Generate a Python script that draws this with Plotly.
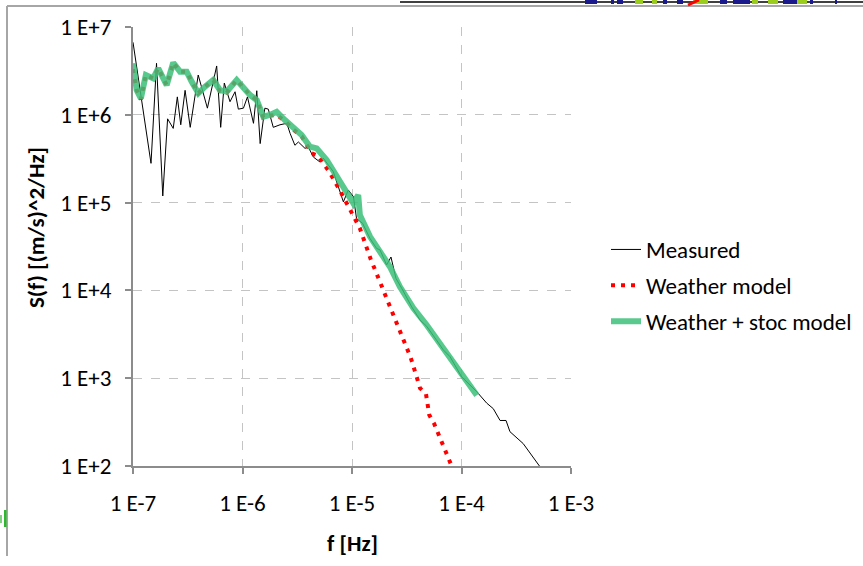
import plotly.graph_objects as go

# ---- data ----
meas_f = [1.00e-7, 1.46e-7, 1.64e-7, 1.87e-7, 2.07e-7, 2.33e-7, 2.54e-7, 2.73e-7, 2.99e-7, 3.33e-7,
          3.94e-7, 4.78e-7, 5.81e-7, 6.32e-7, 6.82e-7, 7.69e-7, 8.55e-7, 9.16e-7, 1.02e-6, 1.11e-6,
          1.26e-6, 1.35e-6, 1.45e-6, 1.60e-6, 1.72e-6, 1.91e-6, 2.20e-6, 2.54e-6, 2.72e-6, 3.01e-6,
          3.24e-6, 3.72e-6, 3.99e-6, 4.44e-6, 5.10e-6, 5.47e-6, 6.75e-6, 8.34e-6, 9.25e-6, 1.03e-5,
          1.10e-5, 1.25e-5, 1.46e-5, 1.68e-5, 1.80e-5, 2.07e-5, 2.27e-5, 2.52e-5, 2.84e-5, 3.51e-5,
          4.18e-5, 4.81e-5, 5.93e-5, 6.82e-5, 7.85e-5, 1.00e-4, 1.38e-4, 1.70e-4, 1.95e-4, 2.25e-4,
          2.55e-4, 2.77e-4, 3.66e-4, 4.38e-4, 5.21e-4]
meas_s = [6.7e6, 2.8e5, 3.86e6, 1.19e5, 9.0e5, 7.0e5, 1.6e6, 7.7e5, 1.9e6, 7.2e5,
          2.84e6, 1.19e6, 3.6e6, 7.2e5, 2.3e6, 1.41e6, 1.83e6, 1.16e6, 1.19e6, 1.6e6,
          8.0e5, 1.88e6, 4.7e5, 1.19e6, 1.16e6, 7.2e5, 7.7e5, 8.0e5, 6.15e5, 4.5e5,
          4.9e5, 4.15e5, 4.3e5, 3.3e5, 2.9e5, 3.2e5, 2.25e5, 1.02e5, 1.39e5, 1.17e5,
          6.6e4, 5.8e4, 3.9e4, 3.0e4, 2.9e4, 1.95e4, 2.4e4, 1.37e4, 1.06e4, 6.5e3,
          4.6e3, 3.9e3, 2.7e3, 2.1e3, 1.76e3, 1.04e3, 7.0e2, 5.2e2, 4.5e2, 3.3e2,
          3.3e2, 2.46e2, 1.8e2, 1.33e2, 9.8e1]

weather_f = [1.00e-7, 1.08e-7, 1.18e-7, 1.31e-7, 1.53e-7, 1.70e-7, 2.03e-7, 2.33e-7, 2.69e-7, 3.09e-7,
             3.44e-7, 3.95e-7, 4.55e-7, 5.41e-7, 6.23e-7, 7.17e-7, 8.85e-7, 1.02e-6, 1.17e-6, 1.35e-6,
             1.55e-6, 1.78e-6, 2.05e-6, 2.44e-6, 2.91e-6, 3.47e-6, 4.29e-6, 4.92e-6, 6.30e-6, 7.77e-6,
             9.60e-6, 1.18e-5, 1.48e-5, 1.75e-5, 2.10e-5, 2.47e-5, 2.90e-5, 3.44e-5, 3.92e-5, 4.18e-5,
             4.74e-5, 5.08e-5, 5.65e-5, 6.68e-5, 8.00e-5]
weather_s = [3.3e6, 1.91e6, 1.50e6, 2.84e6, 2.6e6, 3.39e6, 2.18e6, 3.92e6, 3.1e6, 3.1e6,
             2.38e6, 1.76e6, 2.09e6, 2.49e6, 1.85e6, 1.78e6, 2.49e6, 2.0e6, 1.68e6, 1.47e6,
             9.3e5, 9.8e5, 1.0e6, 8.5e5, 6.8e5, 5.7e5, 3.65e5, 3.4e5, 2.17e5, 1.37e5,
             8.2e4, 5.1e4, 2.28e4, 1.36e4, 8.1e3, 4.8e3, 2.89e3, 1.71e3, 1.01e3, 7.7e2,
             6.6e2, 3.8e2, 3.0e2, 1.77e2, 1.05e2]

stoc_f = [1.00e-7, 1.08e-7, 1.18e-7, 1.31e-7, 1.53e-7, 1.70e-7, 2.03e-7, 2.33e-7, 2.69e-7, 3.09e-7,
          3.44e-7, 3.95e-7, 4.55e-7, 5.41e-7, 6.23e-7, 7.17e-7, 8.85e-7, 1.02e-6, 1.17e-6, 1.35e-6,
          1.55e-6, 1.78e-6, 2.05e-6, 2.44e-6, 2.91e-6, 3.47e-6, 4.13e-6, 4.76e-6, 5.87e-6, 7.25e-6,
          8.95e-6, 1.03e-5, 1.14e-5, 1.18e-5, 1.46e-5, 2.22e-5, 2.74e-5, 3.63e-5, 4.81e-5, 7.33e-5,
          1.00e-4, 1.38e-4]
stoc_s = [3.86e6, 1.91e6, 1.54e6, 2.84e6, 2.6e6, 3.39e6, 2.18e6, 3.92e6, 3.1e6, 3.1e6,
          2.38e6, 1.76e6, 2.09e6, 2.49e6, 1.91e6, 1.83e6, 2.49e6, 2.0e6, 1.68e6, 1.47e6,
          9.5e5, 9.96e5, 1.08e6, 8.7e5, 7.0e5, 5.9e5, 4.34e5, 4.15e5, 3.06e5, 1.97e5,
          1.28e5, 9.8e4, 1.22e5, 7.2e4, 4.1e4, 1.86e4, 1.10e4, 6.3e3, 4.04e3, 1.92e3,
          1.09e3, 6.4e2]

x_tickvals = [1e-7, 1e-6, 1e-5, 1e-4, 1e-3]
x_ticktext = ["1 E-7", "1 E-6", "1 E-5", "1 E-4", "1 E-3"]
y_tickvals = [1e2, 1e3, 1e4, 1e5, 1e6, 1e7]
y_ticktext = ["1 E+2", "1 E+3", "1 E+4", "1 E+5", "1 E+6", "1 E+7"]

FONT = "Calibri, Carlito, Lato, sans-serif"
FS = 23
W, H = 863, 566
L, R, T, B = 133, 571, 27, 466  # plot area in pixels


def px(xp):
    return (xp - L) / (R - L)


def py(yp):
    return (B - yp) / (B - T)


fig = go.Figure()
fig.add_trace(go.Scatter(x=meas_f, y=meas_s, mode="lines", name="Measured",
                         line=dict(color="black", width=1), legendgroup="a"))
fig.add_trace(go.Scatter(x=weather_f, y=weather_s, mode="lines", name="Weather model",
                         line=dict(color="#ff0000", width=4, dash="4px,6px"), legendgroup="b"))
fig.add_trace(go.Scatter(x=stoc_f, y=stoc_s, mode="lines", name="Weather + stoc model",
                         line=dict(color="#3cc07a", width=6), opacity=0.85, legendgroup="c"))

axis_common = dict(
    type="log", showline=True, linecolor="#8c8c8c", linewidth=2,
    ticks="outside", ticklen=6, tickcolor="#8c8c8c", tickwidth=2,
    showgrid=True, gridcolor="#c4c4c4", gridwidth=1, griddash="dash",
    zeroline=False, automargin=False, tickfont=dict(family=FONT, size=FS, color="black"),
)

fig.update_xaxes(range=[-7, -3], tickvals=x_tickvals, ticktext=x_ticktext,
                 ticklabelstandoff=9, **axis_common)
fig.update_yaxes(range=[2, 7], tickvals=y_tickvals, ticktext=y_ticktext,
                 ticklabelstandoff=9, **axis_common)

shapes = [
    # outer chart frame (left + top)
    dict(type="line", xref="paper", yref="paper", x0=px(7), x1=px(7), y0=py(6), y1=py(556),
         line=dict(color="#a6a6a6", width=2)),
    dict(type="line", xref="paper", yref="paper", x0=px(7), x1=px(870), y0=py(6), y1=py(6),
         line=dict(color="#a6a6a6", width=2)),
    # neighbouring chart's edge
    dict(type="line", xref="paper", yref="paper", x0=px(400), x1=px(870), y0=py(2), y1=py(2),
         line=dict(color="black", width=1.5)),
    # fragment of a neighbouring legend label at the left edge
    dict(type="rect", xref="paper", yref="paper", x0=px(4), x1=px(6.5), y0=py(527), y1=py(510),
         fillcolor="#2db82d", line=dict(width=0)),
    dict(type="rect", xref="paper", yref="paper", x0=px(0), x1=px(2), y0=py(523), y1=py(515),
         fillcolor="#7fd07f", line=dict(width=0)),
]
bars = [(585, 597, "#1a1a8c"), (611, 614, "#1a1a8c"), (617, 623, "#1a1a8c"), (635, 643, "#9acd1e"),
        (652, 657, "#9acd1e"), (663, 667, "#1a1a8c"), (677, 683, "#1a1a8c"), (693, 708, "#9acd1e"),
        (720, 727, "#1a1a8c"), (733, 750, "#1a1a8c"), (752, 758, "#9acd1e"), (768, 778, "#9acd1e"),
        (783, 797, "#1a1a8c"), (797, 807, "#9acd1e"), (810, 813, "#1a1a8c"), (835, 837, "#1a1a8c")]
for a, b, c in bars:
    shapes.append(dict(type="rect", xref="paper", yref="paper", x0=px(a), x1=px(b), y0=py(0), y1=py(4),
                       fillcolor=c, line=dict(width=0)))
shapes.append(dict(type="line", xref="paper", yref="paper", x0=px(688), x1=px(699), y0=py(5), y1=py(0),
                   line=dict(color="red", width=3)))

annotations = [
    dict(text="<b>S(f) [(m/s)^2/Hz]</b>", xref="paper", yref="paper", x=px(36), y=py(228),
         textangle=-90, showarrow=False, font=dict(family=FONT, size=FS, color="black"),
         xanchor="center", yanchor="middle"),
    dict(text="<b>f [Hz]</b>", xref="paper", yref="paper", x=px(352), y=py(543),
         showarrow=False, font=dict(family=FONT, size=FS, color="black"),
         xanchor="center", yanchor="middle"),
]

fig.update_layout(
    width=W, height=H,
    margin=dict(l=L, r=W - R, t=T, b=H - B, autoexpand=False),
    paper_bgcolor="white", plot_bgcolor="white",
    shapes=shapes, annotations=annotations,
    showlegend=True,
    legend=dict(xref="container", yref="container", x=606 / W, y=1 - 228 / H,
                xanchor="left", yanchor="top",
                font=dict(family=FONT, size=FS, color="black"),
                tracegroupgap=3, itemwidth=30, bgcolor="rgba(0,0,0,0)"),
)

fig.write_html("out.html")
